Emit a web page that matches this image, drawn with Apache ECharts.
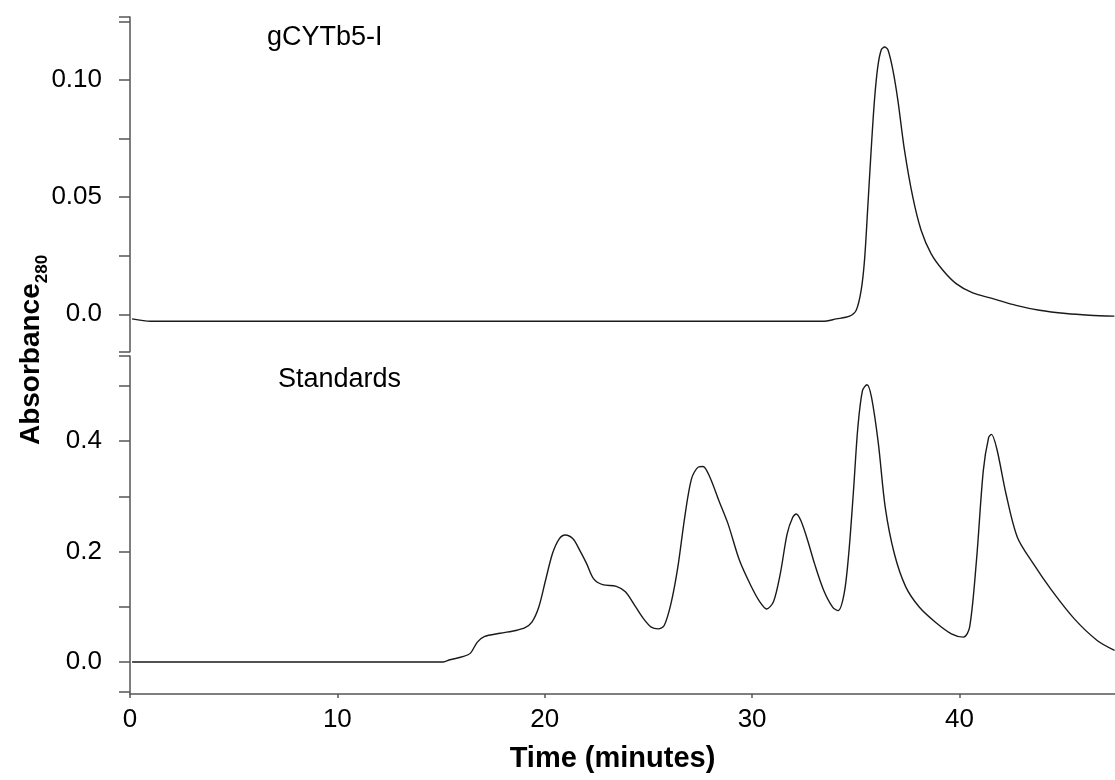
<!DOCTYPE html>
<html>
<head>
<meta charset="utf-8">
<script src="https://cdn.jsdelivr.net/npm/echarts@6/dist/echarts.min.js"></script>
<style>
  html, body { margin: 0; padding: 0; background: #fff; }
  #chart { width: 1115px; height: 780px; }
</style>
</head>
<body>
<div id="chart"></div>
<script>
// gCYTb5-I trace (top panel)
var timeTop = [0.1, 1, 10, 20, 30, 33.4, 34.06, 34.7, 35.02, 35.26, 35.42, 35.58, 35.74, 35.9, 36.06, 36.23, 36.39,
  36.55, 36.79, 37.03, 37.35, 37.75, 38.15, 38.63, 39.2, 39.84, 40.64, 41.61, 42.73, 43.86, 45.14, 46.27, 47.47];
var absTop = [-0.002, -0.003, -0.003, -0.003, -0.003, -0.003, -0.002, -0.0008, 0.0017, 0.0103, 0.023, 0.046, 0.07, 0.0914, 0.1057, 0.113, 0.1142,
  0.113, 0.1043, 0.0914, 0.07, 0.05, 0.0359, 0.0259, 0.0188, 0.0131, 0.0091, 0.0067, 0.0038, 0.0017, 0.0003, -0.0004, -0.0008];

// Standards trace (bottom panel)
var timeStd = [0.1, 10, 15.1, 15.43, 16.09, 16.42, 16.75, 17.08, 17.85, 18.61, 19.05, 19.38, 19.71, 20.04, 20.37, 20.7, 20.99,
  21.36, 21.69, 22.02, 22.35, 22.79, 23.45, 23.89, 24.33, 24.77, 25.14, 25.47, 25.76, 26.09, 26.42, 26.75, 27.08, 27.41, 27.63,
  27.96, 28.4, 28.84, 29.39, 29.93, 30.37, 30.7, 31.03, 31.36, 31.69, 31.96, 32.13, 32.35, 32.68, 33.01, 33.45, 33.89, 34.15,
  34.44, 34.66, 34.88, 35.1, 35.32, 35.54, 35.76, 36.09, 36.42, 36.86, 37.41, 38.07, 38.84, 39.61, 40.2, 40.49, 40.82, 41.15,
  41.41, 41.54, 41.8, 42.24, 42.79, 43.56, 44.44, 45.54, 46.64, 47.48];
var absStd = [0, 0, 0, 0.004, 0.01, 0.016, 0.036, 0.046, 0.052, 0.057, 0.062, 0.072, 0.099, 0.148, 0.196, 0.223, 0.23,
  0.223, 0.202, 0.178, 0.151, 0.14, 0.137, 0.127, 0.103, 0.078, 0.063, 0.06, 0.066, 0.106, 0.172, 0.262, 0.332, 0.353, 0.354,
  0.335, 0.292, 0.25, 0.184, 0.139, 0.109, 0.096, 0.109, 0.16, 0.232, 0.262, 0.268, 0.256, 0.22, 0.178, 0.13, 0.099, 0.093,
  0.124, 0.196, 0.305, 0.425, 0.491, 0.502, 0.479, 0.395, 0.28, 0.196, 0.136, 0.099, 0.072, 0.051, 0.045, 0.063, 0.184, 0.347,
  0.407, 0.412, 0.386, 0.305, 0.226, 0.178, 0.13, 0.078, 0.039, 0.021];

var xTicks = [0, 10, 20, 30, 40];
var topLabels = [0, 0.05, 0.1];
var topTicks = [-0.016, 0, 0.025, 0.05, 0.075, 0.1, 0.125, 0.127];
var stdLabels = [0, 0.2, 0.4];
var stdTicks = [-0.054, 0, 0.1, 0.2, 0.3, 0.4, 0.5, 0.554];

function zip(xs, ys) {
  return xs.map(function (x, i) { return [x, ys[i]]; });
}

var font = '"Liberation Sans", Arial, sans-serif';
var axisColor = '#555';
var lineColor = '#1a1a1a';

var chart = echarts.init(document.getElementById('chart'));

var option = {
  animation: false,
  backgroundColor: '#fff',
  grid: [
    {left: 130, right: 0, top: 17, height: 334.7},
    {left: 130, right: 0, top: 356, height: 338}
  ],
  xAxis: [{
    gridIndex: 0,
    type: 'value',
    min: 0,
    max: 47.5,
    show: false
  }, {
    gridIndex: 1,
    type: 'value',
    min: 0,
    max: 47.5,
    position: 'bottom',
    name: 'Time (minutes)',
    nameLocation: 'middle',
    nameGap: 50,
    nameTextStyle: {fontFamily: font, fontSize: 29, fontWeight: 'bold', color: '#000', padding: [0, 20, 0, 0]},
    axisLine: {onZero: false, lineStyle: {color: axisColor, width: 1.5}},
    axisTick: {customValues: xTicks, length: 4, lineStyle: {color: axisColor, width: 1.5}},
    axisLabel: {customValues: xTicks, margin: 13, fontFamily: font, fontSize: 26, color: '#000'},
    splitLine: {show: false}
  }],
  yAxis: [{
    gridIndex: 0,
    type: 'value',
    min: -0.016,
    max: 0.127,
    axisLine: {show: true, onZero: false, lineStyle: {color: axisColor, width: 1.5}},
    axisTick: {customValues: topTicks, length: 11, lineStyle: {color: axisColor, width: 1.5}},
    axisLabel: {
      customValues: topLabels, margin: 28, fontFamily: font, fontSize: 26, color: '#000',
      formatter: function (v) { return v === 0 ? '0.0' : v.toFixed(2); }
    },
    splitLine: {show: false}
  }, {
    gridIndex: 1,
    type: 'value',
    min: -0.058,
    max: 0.554,
    axisLine: {show: true, onZero: false, lineStyle: {color: axisColor, width: 1.5}},
    axisTick: {customValues: stdTicks, length: 11, lineStyle: {color: axisColor, width: 1.5}},
    axisLabel: {
      customValues: stdLabels, margin: 28, fontFamily: font, fontSize: 26, color: '#000',
      formatter: function (v) { return v.toFixed(1); }
    },
    splitLine: {show: false}
  }],
  graphic: [{
    type: 'text',
    x: 267, y: 24,
    style: {text: 'gCYTb5-I', fontFamily: font, fontSize: 27, fill: '#000'}
  }, {
    type: 'text',
    x: 278, y: 366,
    style: {text: 'Standards', fontFamily: font, fontSize: 27, fill: '#000'}
  }, {
    type: 'text',
    x: 31, y: 350,
    rotation: Math.PI / 2,
    style: {
      text: '{a|Absorbance}{s|280}',
      align: 'center',
      verticalAlign: 'middle',
      rich: {
        a: {fontFamily: font, fontSize: 28, fontWeight: 'bold', fill: '#000'},
        s: {fontFamily: font, fontSize: 17, fontWeight: 'bold', fill: '#000', verticalAlign: 'bottom', padding: [0, 0, -6, 0]}
      }
    }
  }],
  series: [{
    name: 'gCYTb5-I',
    type: 'line',
    xAxisIndex: 0,
    yAxisIndex: 0,
    data: zip(timeTop, absTop),
    showSymbol: false,
    smooth: 0.3,
    lineStyle: {color: lineColor, width: 1.4}
  }, {
    name: 'Standards',
    type: 'line',
    xAxisIndex: 1,
    yAxisIndex: 1,
    data: zip(timeStd, absStd),
    showSymbol: false,
    smooth: 0.3,
    lineStyle: {color: lineColor, width: 1.4}
  }]
};

chart.setOption(option);
</script>
</body>
</html>
